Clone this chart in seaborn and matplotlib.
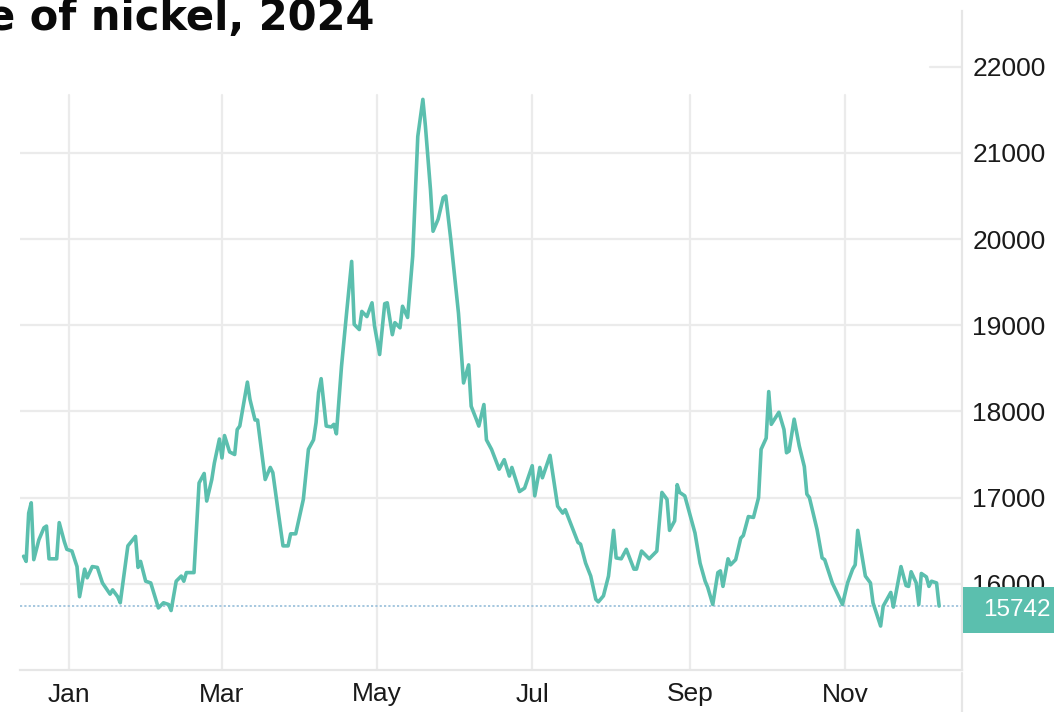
import matplotlib
matplotlib.use("Agg")
import matplotlib.pyplot as plt
import matplotlib.dates as mdates
import matplotlib.transforms as mtransforms
from matplotlib.patches import Rectangle
from matplotlib.lines import Line2D
import numpy as np
import pandas as pd
import seaborn as sns

# Nickel price (USD per tonne), daily closes, Dec 2023 - Dec 2024
dates = [
    "2023-12-14", "2023-12-15", "2023-12-16", "2023-12-17", "2023-12-18", "2023-12-20",
    "2023-12-22", "2023-12-23", "2023-12-24", "2023-12-27", "2023-12-28", "2023-12-30",
    "2023-12-31", "2024-01-02", "2024-01-04", "2024-01-05", "2024-01-07", "2024-01-08",
    "2024-01-10", "2024-01-12", "2024-01-14", "2024-01-17", "2024-01-18", "2024-01-20",
    "2024-01-21", "2024-01-24", "2024-01-27", "2024-01-28", "2024-01-29", "2024-01-31",
    "2024-02-02", "2024-02-05", "2024-02-07", "2024-02-09", "2024-02-10", "2024-02-12",
    "2024-02-14", "2024-02-15", "2024-02-16", "2024-02-19", "2024-02-21", "2024-02-23",
    "2024-02-24", "2024-02-26", "2024-02-27", "2024-02-29", "2024-03-01", "2024-03-02",
    "2024-03-04", "2024-03-06", "2024-03-07", "2024-03-08", "2024-03-11", "2024-03-12",
    "2024-03-14", "2024-03-15", "2024-03-16", "2024-03-18", "2024-03-20", "2024-03-21",
    "2024-03-23", "2024-03-25", "2024-03-27", "2024-03-28", "2024-03-30", "2024-04-02",
    "2024-04-04", "2024-04-06", "2024-04-07", "2024-04-08", "2024-04-09", "2024-04-11",
    "2024-04-13", "2024-04-14", "2024-04-15", "2024-04-17", "2024-04-19", "2024-04-21",
    "2024-04-22", "2024-04-24", "2024-04-25", "2024-04-27", "2024-04-29", "2024-04-30",
    "2024-05-02", "2024-05-04", "2024-05-05", "2024-05-07", "2024-05-08", "2024-05-10",
    "2024-05-11", "2024-05-13", "2024-05-15", "2024-05-17", "2024-05-19", "2024-05-20",
    "2024-05-22", "2024-05-23", "2024-05-25", "2024-05-27", "2024-05-28", "2024-05-30",
    "2024-06-02", "2024-06-04", "2024-06-06", "2024-06-07", "2024-06-09", "2024-06-10",
    "2024-06-12", "2024-06-13", "2024-06-15", "2024-06-18", "2024-06-20", "2024-06-22",
    "2024-06-23", "2024-06-26", "2024-06-28", "2024-07-01", "2024-07-02", "2024-07-04",
    "2024-07-05", "2024-07-08", "2024-07-11", "2024-07-13", "2024-07-14", "2024-07-19",
    "2024-07-20", "2024-07-22", "2024-07-24", "2024-07-26", "2024-07-27", "2024-07-29",
    "2024-07-31", "2024-08-02", "2024-08-03", "2024-08-05", "2024-08-07", "2024-08-10",
    "2024-08-11", "2024-08-13", "2024-08-16", "2024-08-19", "2024-08-21", "2024-08-23",
    "2024-08-24", "2024-08-26", "2024-08-27", "2024-08-28", "2024-08-30", "2024-09-03",
    "2024-09-05", "2024-09-07", "2024-09-08", "2024-09-10", "2024-09-12", "2024-09-13",
    "2024-09-14", "2024-09-16", "2024-09-17", "2024-09-19", "2024-09-21", "2024-09-22",
    "2024-09-24", "2024-09-26", "2024-09-28", "2024-09-29", "2024-10-01", "2024-10-02",
    "2024-10-03", "2024-10-06", "2024-10-08", "2024-10-09", "2024-10-10", "2024-10-12",
    "2024-10-14", "2024-10-16", "2024-10-17", "2024-10-18", "2024-10-21", "2024-10-23",
    "2024-10-24", "2024-10-27", "2024-10-31", "2024-11-02", "2024-11-04", "2024-11-05",
    "2024-11-06", "2024-11-09", "2024-11-11", "2024-11-12", "2024-11-15", "2024-11-16",
    "2024-11-19", "2024-11-20", "2024-11-23", "2024-11-25", "2024-11-26", "2024-11-27",
    "2024-11-29", "2024-11-30", "2024-12-01", "2024-12-03", "2024-12-04", "2024-12-05",
    "2024-12-07", "2024-12-08",
]

prices = [
    16320, 16260, 16820, 16940, 16280, 16510,
    16650, 16670, 16290, 16290, 16710, 16490,
    16400, 16380, 16200, 15850, 16170, 16070,
    16200, 16190, 16010, 15880, 15930, 15850,
    15780, 16440, 16550, 16190, 16260, 16030,
    16010, 15720, 15780, 15760, 15690, 16030,
    16090, 16030, 16130, 16130, 17170, 17280,
    16960, 17210, 17400, 17680, 17460, 17720,
    17530, 17500, 17790, 17830, 18340, 18140,
    17900, 17900, 17670, 17210, 17350, 17290,
    16860, 16440, 16440, 16580, 16580, 16980,
    17560, 17670, 17870, 18220, 18380, 17830,
    17820, 17850, 17740, 18520, 19140, 19740,
    19010, 18950, 19160, 19100, 19260, 18990,
    18660, 19250, 19260, 18890, 19030, 18970,
    19220, 19090, 19800, 21190, 21620, 21310,
    20570, 20090, 20230, 20480, 20500, 19990,
    19140, 18330, 18540, 18060, 17910, 17830,
    18080, 17670, 17560, 17330, 17440, 17250,
    17350, 17070, 17110, 17370, 17020, 17350,
    17230, 17490, 16900, 16820, 16860, 16480,
    16460, 16240, 16090, 15820, 15790, 15860,
    16090, 16620, 16300, 16290, 16400, 16170,
    16170, 16380, 16290, 16380, 17060, 16980,
    16620, 16730, 17150, 17060, 17020, 16590,
    16240, 16030, 15960, 15760, 16130, 16150,
    15970, 16290, 16220, 16280, 16530, 16560,
    16780, 16770, 17000, 17560, 17690, 18230,
    17850, 17990, 17790, 17520, 17540, 17910,
    17600, 17360, 17040, 17000, 16630, 16300,
    16280, 16010, 15760, 16010, 16170, 16220,
    16620, 16090, 16010, 15780, 15510, 15740,
    15900, 15730, 16200, 15980, 15970, 16140,
    16010, 15760, 16120, 16080, 15970, 16030,
    16010, 15742,
]

last_price = 15742
y_ticks = [16000, 17000, 18000, 19000, 20000, 21000, 22000]
month_ticks = ["2024-01-01", "2024-03-01", "2024-05-01", "2024-07-01", "2024-09-01", "2024-11-01"]
title_text = "e of nickel, 2024"

TEAL = "#5bbfae"
GRID = "#ebebeb"

sns.set_theme(style="white")
plt.rcParams["font.family"] = ["Liberation Sans", "DejaVu Sans"]

df = pd.DataFrame({"date": pd.to_datetime(dates), "price": prices})

W, H = 1054, 712
fig = plt.figure(figsize=(W / 100, H / 100), dpi=100)
fig.patch.set_facecolor("white")

ax_left, ax_right, ax_bottom, ax_top = 20, 962, 670, 10.6
ax = fig.add_axes([ax_left / W, (H - ax_bottom) / H,
                   (ax_right - ax_left) / W, (ax_bottom - ax_top) / H])

sns.lineplot(data=df, x="date", y="price", ax=ax, color=TEAL, linewidth=2.6,
             zorder=4, solid_joinstyle="round")

ax.set_ylim(15000, 22650)
ax.set_xlim(pd.Timestamp("2023-12-12 14:00"), pd.Timestamp("2024-12-17"))

# horizontal grid
for v in y_ticks:
    xmin = 0.966 if v == 22000 else 0.0
    ax.axhline(v, xmin=xmin, xmax=1.0, color=GRID, lw=1.6, zorder=1)

# vertical month grid
mt = pd.to_datetime(month_ticks)
vtop = (21676 - 15000) / (22650 - 15000)
for d in mt:
    ax.axvline(d, ymin=0, ymax=vtop, color=GRID, lw=1.6, zorder=1)

# last price reference line
ax.axhline(last_price, color="#9ec3dc", lw=1.3, ls=(0, (1.2, 1.2)), zorder=2)

# ticks
ax.yaxis.tick_right()
ax.set_yticks(y_ticks)
ax.set_yticklabels([str(v) for v in y_ticks])
ax.set_xticks(mt)
ax.xaxis.set_major_formatter(mdates.DateFormatter("%b"))
ax.tick_params(axis="y", length=0, pad=7.5, labelsize=19, labelcolor="#1a1a1a")
ax.tick_params(axis="x", length=0, pad=9, labelsize=19, labelcolor="#1a1a1a")
ax.set_xlabel("")
ax.set_ylabel("")
ax.grid(False)

for s in ["left", "top"]:
    ax.spines[s].set_visible(False)
ax.spines["right"].set_color("#e6e6e6")
ax.spines["right"].set_linewidth(1.6)
ax.spines["bottom"].set_color("#e6e6e6")
ax.spines["bottom"].set_linewidth(1.6)

# right border continues below the plot
fig.add_artist(Line2D([962 / W, 962 / W], [0, (H - 673) / H], color="#e6e6e6", lw=1.6))

# last price badge
trans = mtransforms.blended_transform_factory(ax.transAxes, ax.transData)
shift = mtransforms.ScaledTranslation(0, -4 / 100, fig.dpi_scale_trans)
half = 272
ax.add_patch(Rectangle((1.001, last_price - half), 0.2, 2 * half, transform=trans + shift,
                       facecolor=TEAL, edgecolor="none", clip_on=False, zorder=6))
ax.text(1.0225, last_price, str(last_price), transform=trans + shift, ha="left", va="center",
        color="white", fontsize=17.5, clip_on=False, zorder=7)

# headline (runs off the left edge)
fig.text(-13 / W, 1 - 30 / H, title_text, ha="left", va="baseline",
         fontsize=30, fontweight="bold", family=["DejaVu Sans"], color="#0a0a0a")

fig.savefig("out.png", dpi=100, facecolor="white")
